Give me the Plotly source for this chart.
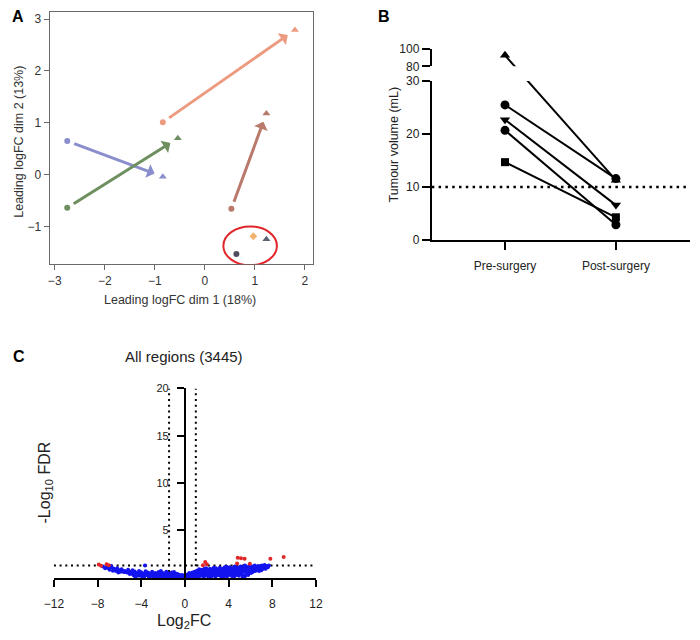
import math
import plotly.graph_objects as go

W, H = 700, 640
FONT = "Arial, Liberation Sans, sans-serif"


def fx(px):
    return px / W


def fy(py):
    return 1 - py / H


# ---------------- Panel A data (MDS plot) ----------------
pair_pre_x = [-0.84, -2.75, -2.75, 0.53]
pair_pre_y = [1.01, 0.65, -0.64, -0.66]
pair_post_x = [1.80, -0.84, -0.54, 1.23]
pair_post_y = [2.79, -0.04, 0.70, 1.18]
pair_colors = ["#EC9A80", "#8A8ECC", "#6E8F60", "#B97A6C"]

single_x = [0.97, 1.23, 0.63]
single_y = [-1.19, -1.25, -1.53]
single_symbols = ["diamond", "triangle-up", "circle"]
single_colors = ["#F2B26E", "#5B6272", "#4E4E60"]

ellipse_box = [0.37, 1.44, -1.75, -1.0]  # x0, x1, y0, y1

a_xticks = [-3, -2, -1, 0, 1, 2]
a_yticks = [-1, 0, 1, 2, 3]

# ---------------- Panel B data (tumour volume) ----------------
timepoints = ["Pre-surgery", "Post-surgery"]
pre_vol = [92.5, 25.5, 22.7, 20.7, 14.7]
post_vol = [11.3, 11.6, 6.6, 2.9, 4.3]
vol_symbols = ["triangle-up", "circle", "triangle-down", "circle", "square"]
threshold_vol = 10
b_low_ticks = [0, 10, 20, 30]
b_up_ticks = [80, 100]

# ---------------- Panel C data (volcano) ----------------
blue_x = [
    0.1, 0.2, 0.3, 0.35, 0.45, 0.5, 0.55, 0.6, 0.7, 0.7, 0.8, 0.85, 0.9, 0.95,
    1.05, 1.1, 1.15, 1.2, 1.3, 1.35, 1.4, 1.45, 1.55, 1.6, 1.65, 1.7, 1.75, 1.8,
    1.9, 1.95, 2.05, 2.1, 2.15, 2.2, 2.3, 2.35, 2.4, 2.45, 2.55, 2.6, 2.65, 2.7,
    2.8, 2.85, 2.9, 2.95, 3.05, 3.1, 3.15, 3.2, 3.3, 3.35, 3.4, 3.45, 3.55, 3.6,
    3.65, 3.7, 3.8, 3.85, 3.9, 3.95, 4.05, 4.1, 4.15, 4.2, 4.3, 4.35, 4.4, 4.45,
    4.55, 4.6, 4.65, 4.7, 4.8, 4.85, 4.9, 4.95, 5.05, 5.1, 5.15, 5.2, 5.3, 5.35,
    5.4, 5.45, 5.55, 5.6, 5.65, 5.7, 5.8, 5.85, 5.9, 5.95, 6.05, 6.1, 6.15, 6.2,
    6.3, 6.35, 6.4, 6.45, 6.55, 6.6, 6.7, 6.75, 6.8, 6.9, 6.95, 7.05, 7.1, 7.2,
    7.3, 7.4, 7.5, 7.6, 7.7,
    0.25, 0.6, 1.0, 1.25, 1.5, 1.85, 2.25, 2.5, 2.75, 3.0, 3.25, 3.5, 3.75, 4.0,
    4.25, 4.5, 4.75, 5.0, 5.25, 5.5, 5.75, 6.0, 6.25, 6.5, 7.0, 7.25, 7.45, 1.95,
    2.65, 3.8, 4.6, 5.5, 0.15, 0.4, 0.65, 0.9, 1.2, 1.6, 2.0, 2.4, 2.9, 3.3,
    3.9, 4.4, 4.9, 5.3, 5.8, 6.2, 6.7, 7.15,
    -0.1, -0.2, -0.3, -0.4, -0.5, -0.6, -0.7, -0.8, -0.9, -1.0, -1.1, -1.2, -1.3,
    -1.4, -1.5, -1.6, -1.7, -1.8, -1.9, -2.0, -2.1, -2.2, -2.3, -2.4, -2.5, -2.6,
    -2.7, -2.8, -2.9, -3.0, -3.1, -3.2, -3.3, -3.4, -3.5, -3.6, -3.7, -3.8, -3.9,
    -4.0, -4.1, -4.2, -4.3, -4.4, -4.5, -4.6, -4.7, -4.8, -4.9, -5.0, -5.1, -5.2,
    -5.3, -5.5, -5.6, -5.8, -5.9, -6.0, -6.2, -6.3, -6.5, -6.7, -6.9, -7.1, -7.3,
    -7.5,
    -0.25, -0.55, -0.75, -1.05, -1.25, -1.55, -1.75, -2.05, -2.25, -2.55, -2.75,
    -3.05, -3.25, -3.55, -3.75, -4.05, -4.25, -4.55, -4.75, -5.05, -5.45, -5.75,
    -6.1, -6.4, -6.6, -7.0, -6.8, -3.66, -2.2, -1.0, -0.15, -0.45, -0.85, -1.35,
    -1.85, -2.45, -2.95, -3.45, -3.95, -4.45,
]
blue_y = [
    0.05, 0.12, 0.2, 0.08, 0.3, 0.15, 0.42, 0.25, 0.1, 0.55, 0.35, 0.18, 0.62, 0.45,
    0.28, 0.75, 0.12, 0.55, 0.9, 0.38, 0.2, 0.68, 0.85, 0.5, 0.3, 0.12, 0.72, 0.95,
    0.45, 0.6, 0.25, 0.8, 0.1, 0.55, 0.95, 0.4, 0.7, 0.2, 0.9, 0.55, 0.3, 0.75,
    0.12, 1.0, 0.45, 0.65, 0.25, 0.85, 0.5, 1.05, 0.15, 0.7, 0.38, 0.95, 0.6, 0.22,
    1.1, 0.8, 0.45, 0.12, 0.95, 0.65, 0.3, 1.1, 0.55, 0.85, 0.18, 1.0, 0.7, 0.4,
    1.15, 0.6, 0.25, 0.9, 0.45, 1.05, 0.75, 0.2, 0.55, 1.2, 0.85, 0.35, 1.0, 0.65,
    1.15, 0.25, 0.8, 1.2, 0.5, 0.95, 0.3, 1.1, 0.7, 1.25, 0.5, 0.95, 1.2, 0.6,
    1.05, 0.7, 1.3, 0.8, 1.1, 0.85, 1.25, 0.9, 0.7, 1.2, 1.0, 1.3, 1.05, 1.2,
    1.35, 0.95, 1.25, 1.1, 1.3,
    0.35, 0.05, 0.5, 0.05, 0.25, 0.2, 0.05, 0.4, 0.2, 0.45, 0.6, 0.08, 0.3, 0.8,
    0.5, 0.08, 0.35, 0.95, 0.6, 0.15, 0.45, 0.65, 0.9, 0.75, 0.8, 1.0, 1.15, 1.0,
    1.05, 1.15, 1.2, 1.3, 0.22, 0.5, 0.3, 0.08, 0.4, 0.65, 0.4, 0.08, 0.35, 0.85,
    0.25, 0.9, 0.4, 0.05, 0.6, 0.8, 1.05, 0.95,
    0.05, 0.15, 0.08, 0.25, 0.12, 0.35, 0.2, 0.1, 0.45, 0.28, 0.15, 0.55, 0.35,
    0.1, 0.45, 0.22, 0.62, 0.3, 0.12, 0.5, 0.25, 0.4, 0.1, 0.6, 0.3, 0.18,
    0.5, 0.35, 0.1, 0.62, 0.25, 0.45, 0.15, 0.55, 0.3, 0.68, 0.2, 0.42, 0.12,
    0.58, 0.3, 0.72, 0.2, 0.5, 0.35, 0.65, 0.25, 0.78, 0.45, 0.6, 0.5, 0.85,
    0.55, 0.7, 0.6, 0.9, 0.62, 0.8, 1.0, 0.7, 0.95, 1.1, 0.85, 1.15, 1.0,
    1.2,
    0.3, 0.05, 0.42, 0.05, 0.25, 0.05, 0.4, 0.08, 0.55, 0.05, 0.2,
    0.4, 0.05, 0.48, 0.05, 0.2, 0.45, 0.1, 0.55, 0.4, 0.6, 0.75,
    0.55, 0.85, 0.75, 1.0, 1.25, 1.3, 0.72, 0.6, 0.2, 0.18, 0.3, 0.2,
    0.22, 0.4, 0.22, 0.35, 0.3, 0.25,
]
red_x = [-7.89, -7.68, -7.17, -6.97, 1.65, 1.86, 2.01, 4.78, 4.84, 5.14, 5.47, 5.95, 7.83, 9.05]
red_y = [1.39, 1.26, 1.43, 1.32, 1.32, 1.67, 1.43, 1.50, 2.12, 2.05, 2.01, 1.47, 2.01, 2.19]
fc_cut_left = -1.45
fc_cut_right = 1.0
fdr_cut = 1.3
c_xticks = [-12, -8, -4, 0, 4, 8, 12]
c_yticks = [5, 10, 15, 20]

fig = go.Figure()

# ================= Panel A =================
A_XD = [fx(40.7), fx(311)]
A_YD = [fy(263), fy(5)]
A_XR = [-3.1, 2.17]
A_YR = [-1.73, 3.14]
kx = (A_XD[1] - A_XD[0]) * W / (A_XR[1] - A_XR[0])
ky = (A_YD[1] - A_YD[0]) * H / (A_YR[1] - A_YR[0])

for i in range(len(pair_pre_x)):
    fig.add_trace(go.Scatter(
        x=[pair_pre_x[i]], y=[pair_pre_y[i]], mode="markers", xaxis="x", yaxis="y",
        marker=dict(symbol="circle", size=6, color=pair_colors[i]), showlegend=False))
    fig.add_trace(go.Scatter(
        x=[pair_post_x[i]], y=[pair_post_y[i]], mode="markers", xaxis="x", yaxis="y",
        marker=dict(symbol="triangle-up", size=7, color=pair_colors[i]), showlegend=False))
    dxp = (pair_post_x[i] - pair_pre_x[i]) * kx
    dyp = (pair_post_y[i] - pair_pre_y[i]) * ky
    L = math.hypot(dxp, dyp)
    ux, uy = dxp / L, dyp / L
    sx = pair_pre_x[i] + 6 * ux / kx
    sy = pair_pre_y[i] + 6 * uy / ky
    ex = pair_post_x[i] - 9 * ux / kx
    ey = pair_post_y[i] - 9 * uy / ky
    fig.add_annotation(x=ex, y=ey, ax=sx, ay=sy, xref="x", yref="y", axref="x", ayref="y",
                       text="", showarrow=True, arrowhead=1, arrowsize=0.8, arrowwidth=3,
                       arrowcolor=pair_colors[i], standoff=0)

for i in range(len(single_x)):
    fig.add_trace(go.Scatter(
        x=[single_x[i]], y=[single_y[i]], mode="markers", xaxis="x", yaxis="y",
        marker=dict(symbol=single_symbols[i], size=6 if single_symbols[i] != "triangle-up" else 7,
                    color=single_colors[i]), showlegend=False))

fig.add_shape(type="circle", xref="x", yref="y", x0=ellipse_box[0], x1=ellipse_box[1],
              y0=ellipse_box[2], y1=ellipse_box[3], line=dict(color="#E0262B", width=2))

# ================= Panel B =================
B_XD = [fx(432.3), fx(696.7)]
B_LD = [fy(238.3), fy(75.7)]
B_UD = [fy(60.7), fy(42.7)]
B_LR = [0, 30]
B_UR = [80, 100]
B_XR = [-0.66, 1.666]


def to_paper(v):
    if v > B_LR[1]:
        return B_UD[0] + (v - B_UR[0]) / (B_UR[1] - B_UR[0]) * (B_UD[1] - B_UD[0])
    return B_LD[0] + (v - B_LR[0]) / (B_LR[1] - B_LR[0]) * (B_LD[1] - B_LD[0])


def paper_to_low(p):
    return B_LR[0] + (p - B_LD[0]) / (B_LD[1] - B_LD[0]) * (B_LR[1] - B_LR[0])


def paper_to_up(p):
    return B_UR[0] + (p - B_UD[0]) / (B_UD[1] - B_UD[0]) * (B_UR[1] - B_UR[0])


xpos = [0, 1]
for i in range(len(pre_vol)):
    pp = [to_paper(pre_vol[i]), to_paper(post_vol[i])]
    fig.add_trace(go.Scatter(x=xpos, y=[paper_to_low(p) for p in pp], mode="lines",
                             xaxis="x2", yaxis="y2", line=dict(color="black", width=2),
                             showlegend=False))
    fig.add_trace(go.Scatter(x=xpos, y=[paper_to_up(p) for p in pp], mode="lines",
                             xaxis="x2", yaxis="y3", line=dict(color="black", width=2),
                             showlegend=False))
    for xv, v in zip(xpos, [pre_vol[i], post_vol[i]]):
        yax = "y3" if v > B_LR[1] else "y2"
        fig.add_trace(go.Scatter(x=[xv], y=[v], mode="markers", xaxis="x2", yaxis=yax,
                                 cliponaxis=False,
                                 marker=dict(symbol=vol_symbols[i],
                                             size=8 if vol_symbols[i] == "square" else 9,
                                             color="black"),
                                 showlegend=False))

fig.add_shape(type="line", xref="x2 domain", yref="y2", x0=0, x1=1, y0=threshold_vol,
              y1=threshold_vol, line=dict(color="black", width=2.5, dash="2.5px,4.3px"))

# ================= Panel C =================
C_XD = [fx(45), fx(313.5)]
C_YD = [fy(583.5), fy(390)]
C_XR = [-12, 12]
C_YR = [0, 20]
yaxis_pos = C_XD[0] + (0 - C_XR[0]) / (C_XR[1] - C_XR[0]) * (C_XD[1] - C_XD[0])

dot = dict(color="black", width=2, dash="2px,3.7px")
fig.add_trace(go.Scatter(x=[fc_cut_left, fc_cut_left], y=C_YR, mode="lines", xaxis="x3",
                         yaxis="y4", line=dot, showlegend=False))
fig.add_trace(go.Scatter(x=[fc_cut_right, fc_cut_right], y=C_YR, mode="lines", xaxis="x3",
                         yaxis="y4", line=dot, showlegend=False))
fig.add_trace(go.Scatter(x=[-12, 11.7], y=[fdr_cut, fdr_cut], mode="lines", xaxis="x3",
                         yaxis="y4", line=dot, showlegend=False))
fig.add_trace(go.Scatter(x=blue_x, y=blue_y, mode="markers", xaxis="x3", yaxis="y4",
                         cliponaxis=False,
                         marker=dict(size=4, color="#1414F0", line=dict(width=0)),
                         showlegend=False))
fig.add_trace(go.Scatter(x=red_x, y=red_y, mode="markers", xaxis="x3", yaxis="y4",
                         cliponaxis=False,
                         marker=dict(size=4, color="#E02828", line=dict(width=0)),
                         showlegend=False))

# ================= Layout =================
a_axis = dict(showline=True, linecolor="#6a6a6a", linewidth=1, mirror=True, ticks="outside",
              ticklen=5, tickwidth=1, tickcolor="#6a6a6a", showgrid=False, zeroline=False,
              tickfont=dict(size=12, color="#333", family=FONT))
b_axis = dict(showline=True, linecolor="black", linewidth=2, ticks="outside", ticklen=8,
              tickwidth=2, tickcolor="black", showgrid=False, zeroline=False,
              tickfont=dict(size=12, color="#222", family=FONT))
c_axis = dict(showline=True, linecolor="black", linewidth=2, ticks="outside", ticklen=7,
              tickwidth=2, tickcolor="black", showgrid=False, zeroline=False,
              tickfont=dict(size=12, color="#222", family=FONT))

fig.update_layout(
    width=W, height=H, margin=dict(l=0, r=0, t=0, b=0),
    paper_bgcolor="white", plot_bgcolor="white", showlegend=False,
    font=dict(family=FONT, color="#222"),
    xaxis=dict(a_axis, domain=A_XD, range=A_XR, tickvals=a_xticks, anchor="y"),
    yaxis=dict(a_axis, domain=A_YD, range=A_YR, tickvals=a_yticks, anchor="x"),
    xaxis2=dict(b_axis, domain=B_XD, range=B_XR, tickvals=xpos, ticktext=timepoints,
                anchor="y2", ticklabelstandoff=6),
    yaxis2=dict(b_axis, domain=B_LD, range=B_LR, tickvals=b_low_ticks, anchor="x2"),
    yaxis3=dict(b_axis, domain=B_UD, range=B_UR, tickvals=b_up_ticks, anchor="x2"),
    xaxis3=dict(c_axis, domain=C_XD, range=C_XR, tickvals=c_xticks, anchor="y4",
                ticklabelstandoff=7),
    yaxis4=dict(c_axis, domain=C_YD, range=C_YR, tickvals=c_yticks, anchor="free",
                position=yaxis_pos, ticklabelstandoff=6,
                tickfont=dict(size=11, color="#222", family=FONT)),
)


def label(text, px, py, size, angle=0, bold=False, color="#222"):
    fig.add_annotation(text=f"<b>{text}</b>" if bold else text, x=fx(px), y=fy(py),
                       xref="paper", yref="paper", showarrow=False, textangle=angle,
                       xanchor="center", yanchor="middle",
                       font=dict(size=size, family=FONT, color=color))


label("A", 8, 10, 16, bold=True, color="black")
label("B", 383, 10, 16, bold=True, color="black")
label("C", 9, 357, 16, bold=True, color="black")
label("Leading logFC dim 1 (18%)", 174, 300, 12.5, color="#333")
label("Leading logFC dim 2 (13%)", 9, 138, 12.5, angle=-90, color="#333")
label("Tumour volume (mL)", 393, 140, 12.5, angle=-90)
label("All regions (3445)", 178, 357, 15)
label("-Log<sub>10</sub> FDR", 36, 486, 16, angle=-90)
label("Log<sub>2</sub>FC", 178, 628, 16)

fig.write_html("out.html")
